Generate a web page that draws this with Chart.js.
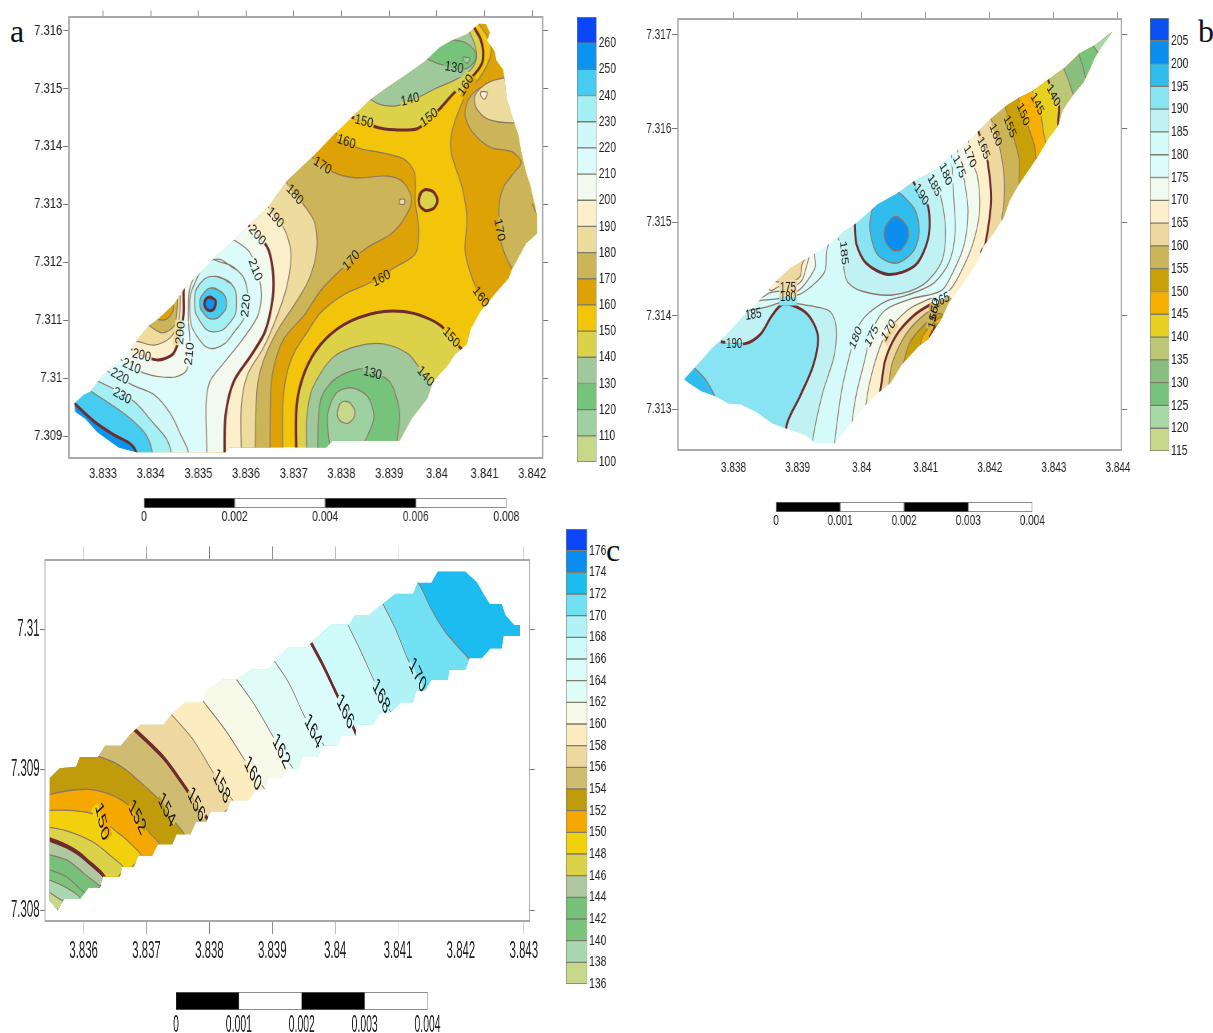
<!DOCTYPE html>
<html>
<head>
<meta charset="utf-8">
<title>Contour maps</title>
<script src="https://cdn.jsdelivr.net/npm/chart.js@4"></script>
<style>
  html, body { margin: 0; background: #fff; }
  body { position: relative; width: 1213px; height: 1033px; overflow: hidden; }
  canvas { position: absolute; transform-origin: 0 0; filter: blur(0.4px); }
  .tag { position: absolute; font: 32px "Liberation Serif", serif; color: #111; line-height: 1; }
</style>
</head>
<body>
<div class="tag" style="left:10px;top:15px">a</div>
<div class="tag" style="left:1198px;top:15px">b</div>
<div class="tag" style="left:606px;top:534px">c</div>
<script>
// ---------- panel a: colour bands ----------
const levelsA = [100,110,120,130,140,150,160,170,180,190,200,210,220,230,240,250,260];
const colorsA = ['#c8d88a','#9fd0a0','#76c47c','#9fc99a','#dcd24a','#f2c40a','#dca206','#ccb558','#eedc9e','#fcf0cc','#f2faf0','#dcfcfc','#d0f8f8','#a4eff4','#45ccf0','#0a94f0','#0a46fa'];
const scaleTicksA = [0,0.002,0.004,0.006,0.008];

const a_outline = [[3.84089,7.31613],[3.84103,7.31612],[3.84111,7.31597],[3.84106,7.31583],[3.84121,7.31565],[3.84125,7.31549],[3.84139,7.31533],[3.84142,7.31516],[3.84146,7.31483],[3.84159,7.31449],[3.84171,7.31419],[3.84177,7.31390],[3.84187,7.31355],[3.84196,7.31332],[3.84204,7.31303],[3.84210,7.31280],[3.84210,7.31250],[3.84187,7.31233],[3.84158,7.31189],[3.84150,7.31172],[3.84121,7.31145],[3.84092,7.31116],[3.84071,7.31084],[3.84063,7.31058],[3.84038,7.31041],[3.84021,7.31020],[3.83992,7.30994],[3.83980,7.30965],[3.83947,7.30930],[3.83922,7.30892],[3.83781,7.30892],[3.83768,7.30880],[3.83565,7.30880],[3.83557,7.30872],[3.83371,7.30872],[3.83333,7.30880],[3.83308,7.30895],[3.83288,7.30907],[3.83263,7.30930],[3.83242,7.30942],[3.83240,7.30956],[3.83259,7.30971],[3.83274,7.30977],[3.83292,7.30997],[3.83312,7.31014],[3.83341,7.31035],[3.83362,7.31052],[3.83375,7.31070],[3.83395,7.31090],[3.83416,7.31102],[3.83449,7.31128],[3.83470,7.31154],[3.83491,7.31172],[3.83516,7.31192],[3.83536,7.31210],[3.83574,7.31238],[3.83607,7.31265],[3.83648,7.31297],[3.83686,7.31341],[3.83739,7.31382],[3.83789,7.31425],[3.83822,7.31451],[3.83860,7.31481],[3.83893,7.31501],[3.83930,7.31521],[3.83976,7.31548],[3.84005,7.31571],[3.84030,7.31583],[3.84063,7.31594]];

const a_e160 = [[3.84088,7.31612],[3.84108,7.31587],[3.84114,7.31569],[3.84108,7.31546],[3.84088,7.31517],[3.84063,7.31492],[3.84042,7.31454],[3.84030,7.31419],[3.84030,7.31390],[3.84038,7.31367],[3.84054,7.31326],[3.84063,7.31274],[3.84059,7.31221],[3.84071,7.31180],[3.84092,7.31140],[3.84112,7.31125],[3.84162,7.31128],[3.84287,7.31244],[3.84287,7.31478],[3.84162,7.31617]];
const a_e170 = [[3.84154,7.31518],[3.84096,7.31504],[3.84067,7.31483],[3.84059,7.31454],[3.84075,7.31425],[3.84112,7.31399],[3.84158,7.31391],[3.84177,7.31373],[3.84162,7.31355],[3.84141,7.31332],[3.84131,7.31303],[3.84131,7.31256],[3.84137,7.31227],[3.84158,7.31189],[3.84179,7.31180],[3.84287,7.31244],[3.84287,7.31478],[3.84204,7.31536]];
const a_ne180 = [[3.84154,7.31521],[3.84108,7.31511],[3.84080,7.31489],[3.84083,7.31466],[3.84108,7.31447],[3.84162,7.31441],[3.84245,7.31448],[3.84245,7.31518]];
const a_neLoop = [[3.84092,7.31495],[3.84106,7.31494],[3.84100,7.31482],[3.84092,7.31488],[3.84092,7.31495]];
const a_eTiny = [[3.84200,7.31301],[3.84205,7.31291],[3.84210,7.31284],[3.84220,7.31291],[3.84212,7.31303]];
const a_n150 = [[3.83806,7.31457],[3.83872,7.31434],[3.83913,7.31429],[3.83959,7.31431],[3.83984,7.31448],[3.84007,7.31466],[3.84035,7.31492],[3.84070,7.31517],[3.84094,7.31543],[3.84097,7.31566],[3.84091,7.31587],[3.84080,7.31603],[3.84071,7.31617],[3.83996,7.31629],[3.83665,7.31536]];
const a_n140 = [[3.83847,7.31489],[3.83880,7.31473],[3.83918,7.31471],[3.83963,7.31486],[3.83996,7.31500],[3.84035,7.31514],[3.84070,7.31532],[3.84083,7.31552],[3.84080,7.31575],[3.84070,7.31595],[3.84059,7.31612],[3.83913,7.31594],[3.83748,7.31536]];
const a_n130 = [[3.83971,7.31556],[3.83984,7.31550],[3.84009,7.31542],[3.84054,7.31534],[3.84073,7.31541],[3.84082,7.31555],[3.84077,7.31568],[3.84059,7.31580],[3.84030,7.31585],[3.84005,7.31588],[3.83955,7.31571]];
const a_nLoop = [[3.84054,7.31555],[3.84069,7.31553],[3.84064,7.31544],[3.84056,7.31549],[3.84054,7.31555]];
const a_c160 = [[3.83781,7.31428],[3.83831,7.31399],[3.83880,7.31390],[3.83930,7.31379],[3.83953,7.31355],[3.83955,7.31303],[3.83962,7.31256],[3.83955,7.31215],[3.83913,7.31192],[3.83855,7.31163],[3.83806,7.31145],[3.83756,7.31113],[3.83727,7.31078],[3.83702,7.31046],[3.83685,7.31006],[3.83677,7.30953],[3.83677,7.30869],[3.83677,7.30807],[3.83167,7.30807],[3.83126,7.31011],[3.83499,7.31303],[3.83731,7.31454]];
const a_c170 = [[3.83735,7.31384],[3.83785,7.31355],[3.83831,7.31346],[3.83897,7.31349],[3.83930,7.31338],[3.83947,7.31309],[3.83934,7.31279],[3.83905,7.31250],[3.83851,7.31224],[3.83797,7.31186],[3.83756,7.31151],[3.83723,7.31110],[3.83681,7.31070],[3.83661,7.31029],[3.83652,7.30982],[3.83650,7.30869],[3.83650,7.30807],[3.83167,7.30807],[3.83126,7.31011],[3.83499,7.31303],[3.83690,7.31408]];
const a_c180 = [[3.83677,7.31346],[3.83723,7.31297],[3.83744,7.31268],[3.83748,7.31221],[3.83731,7.31169],[3.83702,7.31128],[3.83665,7.31081],[3.83636,7.31029],[3.83623,7.30982],[3.83619,7.30869],[3.83619,7.30807],[3.83167,7.30807],[3.83126,7.31011],[3.83499,7.31303],[3.83648,7.31373]];
const a_c190 = [[3.83640,7.31303],[3.83681,7.31256],[3.83694,7.31215],[3.83685,7.31157],[3.83661,7.31099],[3.83636,7.31052],[3.83603,7.31006],[3.83590,7.30953],[3.83590,7.30869],[3.83590,7.30807],[3.83167,7.30807],[3.83126,7.31011],[3.83499,7.31303],[3.83598,7.31326]];
const a_c200 = [[3.83598,7.31271],[3.83644,7.31227],[3.83656,7.31186],[3.83656,7.31140],[3.83640,7.31081],[3.83611,7.31040],[3.83574,7.30994],[3.83557,7.30936],[3.83555,7.30869],[3.83555,7.30807],[3.83167,7.30807],[3.83126,7.31011],[3.83499,7.31303]];
const a_c210 = [[3.83565,7.31244],[3.83607,7.31218],[3.83627,7.31175],[3.83632,7.31140],[3.83623,7.31105],[3.83590,7.31064],[3.83553,7.31026],[3.83524,7.30994],[3.83516,7.30953],[3.83518,7.30869],[3.83518,7.30807],[3.83167,7.30807],[3.83126,7.31011],[3.83458,7.31244]];
const a_w210 = [[3.83491,7.31175],[3.83481,7.31152],[3.83479,7.31101],[3.83482,7.31063],[3.83476,7.31015],[3.83452,7.31002],[3.83413,7.31003],[3.83385,7.31009],[3.83354,7.31020],[3.83329,7.31038],[3.83250,7.31070],[3.83416,7.31186]];
const a_w200 = [[3.83472,7.31166],[3.83469,7.31152],[3.83469,7.31112],[3.83462,7.31075],[3.83448,7.31043],[3.83427,7.31033],[3.83409,7.31032],[3.83385,7.31039],[3.83357,7.31052],[3.83341,7.31064],[3.83375,7.31157]];
const a_wTan = [[3.83458,7.31151],[3.83462,7.31140],[3.83459,7.31099],[3.83441,7.31070],[3.83408,7.31057],[3.83375,7.31063],[3.83358,7.31067],[3.83399,7.31151]];
const a_wKhaki = [[3.83453,7.31145],[3.83456,7.31140],[3.83455,7.31116],[3.83449,7.31090],[3.83424,7.31078],[3.83398,7.31090],[3.83383,7.31099]];
const a_wGold = [[3.83443,7.31131],[3.83448,7.31125],[3.83445,7.31113],[3.83433,7.31102],[3.83416,7.31101],[3.83404,7.31108]];
const a_ring220 = [[3.83532,7.31205],[3.83582,7.31186],[3.83603,7.31151],[3.83600,7.31116],[3.83582,7.31087],[3.83536,7.31052],[3.83499,7.31070],[3.83482,7.31116],[3.83495,7.31169],[3.83532,7.31205]];
const a_ring230 = [[3.83536,7.31176],[3.83569,7.31163],[3.83580,7.31131],[3.83569,7.31099],[3.83532,7.31080],[3.83503,7.31099],[3.83492,7.31131],[3.83503,7.31163],[3.83536,7.31176]];
const a_ring240 = [[3.83530,7.31156],[3.83551,7.31147],[3.83559,7.31129],[3.83551,7.31112],[3.83530,7.31102],[3.83511,7.31112],[3.83503,7.31129],[3.83511,7.31147],[3.83530,7.31156]];
const a_ring250 = [[3.83524,7.31140],[3.83535,7.31135],[3.83536,7.31128],[3.83532,7.31119],[3.83522,7.31117],[3.83514,7.31123],[3.83514,7.31134],[3.83524,7.31140]];
const a_sw220 = [[3.83292,7.31020],[3.83362,7.30988],[3.83408,7.30971],[3.83441,7.30939],[3.83462,7.30904],[3.83480,7.30869],[3.83480,7.30807],[3.83167,7.30807],[3.83167,7.30953]];
const a_sw230 = [[3.83283,7.30997],[3.83321,7.30982],[3.83366,7.30959],[3.83404,7.30924],[3.83433,7.30895],[3.83443,7.30869],[3.83443,7.30807],[3.83167,7.30807],[3.83167,7.30953]];
const a_sw240 = [[3.83271,7.30979],[3.83325,7.30950],[3.83366,7.30924],[3.83391,7.30901],[3.83404,7.30869],[3.83404,7.30807],[3.83167,7.30807],[3.83167,7.30953]];
const a_sw250 = [[3.83238,7.30958],[3.83283,7.30924],[3.83325,7.30901],[3.83358,7.30886],[3.83370,7.30869],[3.83370,7.30807],[3.83167,7.30807]];
const a_s150 = [[3.83705,7.30869],[3.83706,7.30953],[3.83723,7.31011],[3.83756,7.31058],[3.83806,7.31093],[3.83872,7.31113],[3.83930,7.31115],[3.83976,7.31105],[3.84009,7.31090],[3.84030,7.31070],[3.84059,7.31046],[3.84162,7.31011],[3.84162,7.30807],[3.83705,7.30807]];
const a_s140 = [[3.83727,7.30869],[3.83727,7.30930],[3.83739,7.30982],[3.83781,7.31035],[3.83831,7.31055],[3.83889,7.31059],[3.83938,7.31043],[3.83959,7.31023],[3.83976,7.31003],[3.84000,7.30979],[3.84162,7.30895],[3.84162,7.30807],[3.83727,7.30807]];
const a_s130 = [[3.83750,7.30869],[3.83752,7.30936],[3.83760,7.30971],[3.83789,7.31000],[3.83839,7.31016],[3.83865,7.31011],[3.83901,7.30994],[3.83918,7.30959],[3.83922,7.30930],[3.83913,7.30869],[3.83913,7.30807],[3.83750,7.30807]];
const a_s120 = [[3.83777,7.30869],[3.83771,7.30936],[3.83789,7.30974],[3.83822,7.30983],[3.83855,7.30968],[3.83868,7.30933],[3.83855,7.30901],[3.83835,7.30869],[3.83835,7.30807],[3.83777,7.30807]];
const a_s110 = [[3.83791,7.30941],[3.83797,7.30956],[3.83810,7.30960],[3.83822,7.30953],[3.83828,7.30939],[3.83818,7.30924],[3.83804,7.30923],[3.83793,7.30931],[3.83791,7.30941]];
const a_hole = [[3.83962,7.31307],[3.83967,7.31321],[3.83984,7.31325],[3.83999,7.31314],[3.83999,7.31300],[3.83984,7.31290],[3.83968,7.31294],[3.83962,7.31307]];
const a_tri = [[3.83922,7.31309],[3.83932,7.31309],[3.83932,7.31301],[3.83922,7.31301],[3.83922,7.31309]];

const labelsA = [['130',3.84036,7.31536,10],['140',3.83944,7.31481,-15],['160',3.84061,7.31506,-60],['150',3.83847,7.31443,15],['150',3.83984,7.31450,-40],['160',3.83810,7.31408,20],['170',3.83760,7.31367,35],['180',3.83702,7.31317,50],['190',3.83661,7.31277,50],['200',3.83623,7.31247,50],['210',3.83619,7.31187,70],['220',3.83600,7.31125,-85],['170',3.84131,7.31256,80],['170',3.83821,7.31203,-50],['160',3.83884,7.31172,-30],['160',3.84092,7.31140,55],['150',3.84030,7.31070,50],['140',3.83976,7.31003,50],['130',3.83865,7.31008,15],['200',3.83463,7.31078,-85],['210',3.83482,7.31042,-85],['200',3.83381,7.31039,15],['210',3.83360,7.31020,25],['220',3.83335,7.31003,30],['230',3.83340,7.30969,30]];

// ---------- panel b ----------
const levelsB = [115,120,125,130,135,140,145,150,155,160,165,170,175,180,185,190,195,200,205];
const colorsB = ['#c8d88a','#a8d8a8','#76c47c','#88bf80','#bcc878','#e8d020','#f5b000','#c8a008','#ccb558','#eed8a0','#fcf0cc','#f2faf0','#dcfcfc','#d4fafa','#c0f2f4','#88e4f2','#30bcec','#0a8ef0','#0a50f0'];
const scaleTicksB = [0,0.001,0.002,0.003,0.004];

const b_outline = [[3.84391,7.31703],[3.84376,7.31689],[3.84364,7.31676],[3.84355,7.31662],[3.84346,7.31649],[3.84332,7.31638],[3.84314,7.31620],[3.84307,7.31604],[3.84290,7.31588],[3.84273,7.31568],[3.84264,7.31559],[3.84246,7.31541],[3.84231,7.31523],[3.84222,7.31505],[3.84205,7.31487],[3.84190,7.31474],[3.84181,7.31458],[3.84160,7.31436],[3.84137,7.31415],[3.84125,7.31397],[3.84104,7.31375],[3.84090,7.31368],[3.84063,7.31348],[3.84045,7.31328],[3.84025,7.31317],[3.84007,7.31305],[3.83983,7.31285],[3.83957,7.31263],[3.83927,7.31264],[3.83913,7.31272],[3.83883,7.31279],[3.83860,7.31285],[3.83836,7.31297],[3.83812,7.31305],[3.83792,7.31306],[3.83771,7.31314],[3.83750,7.31319],[3.83730,7.31328],[3.83723,7.31332],[3.83739,7.31344],[3.83765,7.31364],[3.83795,7.31384],[3.83818,7.31402],[3.83839,7.31415],[3.83865,7.31436],[3.83889,7.31451],[3.83919,7.31463],[3.83948,7.31476],[3.83972,7.31490],[3.83992,7.31499],[3.84025,7.31519],[3.84054,7.31530],[3.84084,7.31545],[3.84113,7.31555],[3.84143,7.31573],[3.84172,7.31590],[3.84199,7.31609],[3.84225,7.31624],[3.84246,7.31633],[3.84267,7.31640],[3.84293,7.31653],[3.84317,7.31665],[3.84340,7.31680],[3.84364,7.31689]];

const b_e180 = [[3.84140,7.31577],[3.84143,7.31534],[3.84146,7.31490],[3.84137,7.31458],[3.84113,7.31435],[3.84072,7.31422],[3.84037,7.31415],[3.84007,7.31400],[3.83992,7.31384],[3.83981,7.31357],[3.83969,7.31321],[3.83957,7.31260],[3.83954,7.31231],[3.84450,7.31231],[3.84450,7.31714]];
const b_e175 = [[3.84149,7.31579],[3.84160,7.31545],[3.84166,7.31512],[3.84160,7.31476],[3.84143,7.31447],[3.84125,7.31427],[3.84078,7.31418],[3.84037,7.31406],[3.84016,7.31384],[3.84004,7.31350],[3.83992,7.31317],[3.83985,7.31285],[3.83981,7.31231],[3.84450,7.31231],[3.84450,7.31714]];
const b_e170 = [[3.84166,7.31593],[3.84169,7.31570],[3.84181,7.31548],[3.84184,7.31512],[3.84175,7.31480],[3.84158,7.31451],[3.84137,7.31427],[3.84107,7.31418],[3.84072,7.31406],[3.84037,7.31379],[3.84019,7.31346],[3.84007,7.31306],[3.84001,7.31231],[3.84450,7.31231],[3.84450,7.31714]];
const b_ne165 = [[3.84181,7.31600],[3.84190,7.31579],[3.84197,7.31563],[3.84202,7.31523],[3.84193,7.31476],[3.84187,7.31467],[3.84273,7.31447],[3.84450,7.31714],[3.84214,7.31664]];
const b_ne160 = [[3.84199,7.31615],[3.84208,7.31599],[3.84215,7.31581],[3.84222,7.31552],[3.84222,7.31519],[3.84219,7.31503],[3.84228,7.31494],[3.84450,7.31714],[3.84273,7.31682]];
const b_ne155 = [[3.84222,7.31628],[3.84237,7.31591],[3.84246,7.31566],[3.84246,7.31539],[3.84255,7.31532],[3.84450,7.31714],[3.84273,7.31682]];
const b_ne150 = [[3.84243,7.31635],[3.84258,7.31606],[3.84270,7.31581],[3.84273,7.31566],[3.84281,7.31561],[3.84450,7.31714],[3.84302,7.31682]];
const b_ne145 = [[3.84264,7.31643],[3.84278,7.31620],[3.84287,7.31586],[3.84296,7.31581],[3.84450,7.31714],[3.84302,7.31682]];
const b_ne140 = [[3.84290,7.31655],[3.84299,7.31635],[3.84308,7.31624],[3.84307,7.31604],[3.84314,7.31597],[3.84450,7.31714],[3.84326,7.31682]];
const b_ne135 = [[3.84314,7.31667],[3.84323,7.31651],[3.84332,7.31633],[3.84337,7.31628],[3.84450,7.31714],[3.84332,7.31692]];
const b_ne130 = [[3.84337,7.31683],[3.84345,7.31667],[3.84352,7.31649],[3.84361,7.31644],[3.84450,7.31714],[3.84361,7.31700]];
const b_ne125 = [[3.84358,7.31691],[3.84368,7.31682],[3.84376,7.31673],[3.84450,7.31714],[3.84385,7.31710]];
const b_se165 = [[3.84028,7.31315],[3.84031,7.31328],[3.84037,7.31353],[3.84054,7.31379],[3.84078,7.31398],[3.84103,7.31410],[3.84131,7.31418],[3.84146,7.31413],[3.84273,7.31267],[3.84037,7.31267]];
const b_se160 = [[3.84042,7.31325],[3.84048,7.31350],[3.84069,7.31380],[3.84096,7.31400],[3.84119,7.31409],[3.84134,7.31409],[3.84273,7.31267],[3.84048,7.31267]];
const b_se155 = [[3.84063,7.31344],[3.84075,7.31371],[3.84096,7.31389],[3.84119,7.31402],[3.84131,7.31398],[3.84273,7.31267],[3.84066,7.31267]];
const b_se150 = [[3.84090,7.31364],[3.84096,7.31379],[3.84113,7.31393],[3.84124,7.31398],[3.84134,7.31395],[3.84273,7.31267],[3.84096,7.31267]];
const b_se145 = [[3.84103,7.31371],[3.84110,7.31384],[3.84122,7.31393],[3.84134,7.31391],[3.84273,7.31267]];
const b_se140 = [[3.84106,7.31377],[3.84116,7.31387],[3.84125,7.31388],[3.84137,7.31389],[3.84273,7.31267]];
const b_n185 = [[3.83963,7.31483],[3.83972,7.31467],[3.83972,7.31451],[3.83978,7.31436],[3.84001,7.31426],[3.84048,7.31422],[3.84096,7.31433],[3.84125,7.31458],[3.84131,7.31490],[3.84125,7.31523],[3.84116,7.31541],[3.84110,7.31559],[3.84037,7.31573]];
const b_n190 = [[3.83989,7.31501],[3.83992,7.31476],[3.84007,7.31456],[3.84042,7.31444],[3.84084,7.31454],[3.84104,7.31483],[3.84104,7.31516],[3.84090,7.31530],[3.84078,7.31545],[3.84037,7.31555]];
const b_n195 = [[3.84025,7.31523],[3.84016,7.31512],[3.84013,7.31490],[3.84025,7.31465],[3.84054,7.31456],[3.84081,7.31469],[3.84090,7.31490],[3.84084,7.31512],[3.84066,7.31527],[3.84053,7.31534]];
const b_n200 = [[3.84054,7.31506],[3.84067,7.31499],[3.84073,7.31488],[3.84067,7.31475],[3.84054,7.31469],[3.84041,7.31475],[3.84035,7.31488],[3.84041,7.31499],[3.84054,7.31506]];
const b_sw185 = [[3.83818,7.31405],[3.83851,7.31409],[3.83877,7.31414],[3.83930,7.31409],[3.83951,7.31404],[3.83960,7.31389],[3.83957,7.31357],[3.83939,7.31317],[3.83924,7.31269],[3.83919,7.31231],[3.83683,7.31267],[3.83683,7.31375]];
const b_sw190 = [[3.83780,7.31372],[3.83818,7.31370],[3.83842,7.31380],[3.83860,7.31400],[3.83877,7.31412],[3.83907,7.31406],[3.83924,7.31393],[3.83932,7.31375],[3.83924,7.31346],[3.83904,7.31314],[3.83883,7.31283],[3.83877,7.31231],[3.83683,7.31267],[3.83683,7.31357]];
const b_sw195 = [[3.83736,7.31346],[3.83756,7.31332],[3.83771,7.31314],[3.83777,7.31303],[3.83683,7.31303]];
const b_w180 = [[3.83951,7.31483],[3.83945,7.31467],[3.83943,7.31448],[3.83928,7.31435],[3.83904,7.31423],[3.83870,7.31418],[3.83840,7.31416],[3.83824,7.31412],[3.83801,7.31483]];
const b_w175 = [[3.83930,7.31472],[3.83926,7.31466],[3.83928,7.31453],[3.83915,7.31437],[3.83899,7.31426],[3.83870,7.31426],[3.83855,7.31424],[3.83842,7.31420],[3.83801,7.31483]];
const b_w170 = [[3.83919,7.31465],[3.83914,7.31453],[3.83907,7.31438],[3.83892,7.31431],[3.83871,7.31431],[3.83857,7.31427],[3.83801,7.31483]];
const b_w165 = [[3.83913,7.31462],[3.83907,7.31455],[3.83904,7.31442],[3.83891,7.31436],[3.83876,7.31436],[3.83863,7.31438],[3.83860,7.31483]];

const labelsB = [['140',3.84299,7.31635,65],['145',3.84274,7.31626,65],['150',3.84252,7.31615,70],['155',3.84231,7.31602,70],['160',3.84209,7.31593,70],['165',3.84190,7.31579,70],['170',3.84169,7.31570,70],['175',3.84152,7.31559,70],['180',3.84131,7.31551,70],['185',3.84113,7.31539,65],['190',3.84093,7.31529,60],['185',3.83972,7.31467,85],['175',3.83885,7.31429,0],['180',3.83885,7.31420,0],['185',3.83831,7.31401,-10],['190',3.83801,7.31370,0],['180',3.83991,7.31376,-70],['175',3.84016,7.31378,-65],['170',3.84042,7.31384,-60],['165',3.84125,7.31416,-30],['160',3.84114,7.31406,-80],['155',3.84112,7.31398,-80]];

// ---------- panel c ----------
const levelsC = [136,138,140,142,144,146,148,150,152,154,156,158,160,162,164,166,168,170,172,174,176];
const colorsC = ['#c8d88a','#a8d8b0','#7cc47c','#76c07a','#b0c8a0','#dcd24a','#f2d00c','#f5a800','#c09c0c','#d0bc70','#eed8a0','#fcecc0','#f6f8e8','#e0fcf6','#dcfcfc','#cffafa','#b0f2f6','#70e0f2','#1cbcf0','#0a8cf0','#0a46fa'];
const scaleTicksC = [0,0.001,0.002,0.003,0.004];

const c_outline = [[3.83546,7.30894],[3.83562,7.30901],[3.83588,7.30902],[3.83594,7.30909],[3.83623,7.30909],[3.83634,7.30917],[3.83659,7.30917],[3.83674,7.30925],[3.83690,7.30932],[3.83727,7.30932],[3.83741,7.30940],[3.83762,7.30948],[3.83789,7.30948],[3.83795,7.30956],[3.83821,7.30964],[3.83843,7.30964],[3.83866,7.30971],[3.83893,7.30971],[3.83907,7.30979],[3.83926,7.30987],[3.83955,7.30987],[3.83971,7.30994],[3.83993,7.31003],[3.84022,7.31003],[3.84032,7.31010],[3.84054,7.31010],[3.84076,7.31018],[3.84096,7.31025],[3.84124,7.31025],[3.84131,7.31033],[3.84153,7.31033],[3.84163,7.31041],[3.84207,7.31041],[3.84226,7.31033],[3.84236,7.31025],[3.84246,7.31018],[3.84265,7.31018],[3.84271,7.31010],[3.84285,7.31003],[3.84294,7.31003],[3.84294,7.30995],[3.84268,7.30995],[3.84265,7.30986],[3.84247,7.30986],[3.84233,7.30979],[3.84214,7.30979],[3.84207,7.30971],[3.84182,7.30971],[3.84179,7.30964],[3.84153,7.30964],[3.84143,7.30956],[3.84129,7.30956],[3.84124,7.30948],[3.84105,7.30948],[3.84089,7.30941],[3.84070,7.30940],[3.84060,7.30932],[3.84035,7.30932],[3.84032,7.30924],[3.84009,7.30924],[3.84004,7.30917],[3.83981,7.30917],[3.83971,7.30909],[3.83949,7.30909],[3.83942,7.30901],[3.83928,7.30901],[3.83914,7.30894],[3.83894,7.30894],[3.83888,7.30886],[3.83875,7.30886],[3.83862,7.30878],[3.83834,7.30878],[3.83827,7.30870],[3.83802,7.30870],[3.83795,7.30863],[3.83779,7.30863],[3.83770,7.30854],[3.83748,7.30854],[3.83741,7.30847],[3.83718,7.30847],[3.83709,7.30839],[3.83687,7.30839],[3.83680,7.30831],[3.83661,7.30831],[3.83658,7.30824],[3.83631,7.30824],[3.83626,7.30816],[3.83608,7.30816],[3.83594,7.30808],[3.83569,7.30808],[3.83559,7.30800],[3.83546,7.30807]];

const c_172 = [[3.84124,7.31038],[3.84137,7.31029],[3.84153,7.31014],[3.84175,7.30998],[3.84214,7.30978],[3.84223,7.30972]];
const c_170 = [[3.84070,7.31023],[3.84096,7.31000],[3.84115,7.30979],[3.84131,7.30967],[3.84147,7.30953]];
const c_168 = [[3.84017,7.31006],[3.84041,7.30984],[3.84059,7.30966],[3.84073,7.30952],[3.84089,7.30937]];
const c_166 = [[3.83957,7.30994],[3.83981,7.30974],[3.84000,7.30956],[3.84016,7.30941],[3.84032,7.30922]];
const c_164 = [[3.83896,7.30982],[3.83926,7.30962],[3.83949,7.30940],[3.83965,7.30927],[3.83984,7.30913]];
const c_162 = [[3.83840,7.30966],[3.83872,7.30946],[3.83898,7.30926],[3.83914,7.30913],[3.83933,7.30897]];
const c_160 = [[3.83784,7.30952],[3.83824,7.30929],[3.83853,7.30909],[3.83869,7.30897],[3.83888,7.30883]];
const c_158 = [[3.83732,7.30943],[3.83773,7.30922],[3.83802,7.30901],[3.83819,7.30888],[3.83838,7.30875]];
const c_156 = [[3.83680,7.30929],[3.83728,7.30908],[3.83762,7.30887],[3.83779,7.30875],[3.83800,7.30860]];
const c_154 = [[3.83581,7.30911],[3.83626,7.30909],[3.83664,7.30901],[3.83703,7.30886],[3.83721,7.30878],[3.83735,7.30868],[3.83760,7.30851]];
const c_152 = [[3.83530,7.30881],[3.83575,7.30885],[3.83607,7.30886],[3.83639,7.30883],[3.83671,7.30875],[3.83685,7.30866],[3.83703,7.30856],[3.83722,7.30844]];
const c_150 = [[3.83530,7.30871],[3.83578,7.30871],[3.83617,7.30868],[3.83652,7.30856],[3.83671,7.30849],[3.83691,7.30837]];
const c_148 = [[3.83530,7.30860],[3.83569,7.30857],[3.83613,7.30849],[3.83642,7.30839],[3.83664,7.30828]];
const c_146 = [[3.83530,7.30853],[3.83575,7.30845],[3.83604,7.30836],[3.83634,7.30820]];
const c_144 = [[3.83530,7.30841],[3.83572,7.30836],[3.83601,7.30826],[3.83629,7.30813]];
const c_142 = [[3.83530,7.30831],[3.83572,7.30824],[3.83597,7.30814],[3.83612,7.30808]];
const c_140 = [[3.83530,7.30824],[3.83569,7.30817],[3.83594,7.30807]];
const c_138 = [[3.83530,7.30817],[3.83562,7.30808],[3.83575,7.30804]];
const c_136 = [[3.83530,7.30809],[3.83559,7.30800],[3.83562,7.30796]];
const c_closeSW = [3.83467,7.30766];
const c_closeNW = [3.83530,7.31050];

const labelsC = [['170',3.84131,7.30967,65],['168',3.84073,7.30952,65],['166',3.84016,7.30941,65],['164',3.83965,7.30927,65],['162',3.83914,7.30913,65],['160',3.83869,7.30897,65],['158',3.83819,7.30888,65],['156',3.83779,7.30875,65],['154',3.83732,7.30871,65],['152',3.83685,7.30866,65],['150',3.83629,7.30863,78]];

// ---------- drawing ----------
const FONT = '"Liberation Sans", sans-serif';
const HEAVY = '#6e2c2c', THIN = '#8d7768', FRAME = '#a8a8a8', TEXT = '#222';

function addCanvas(left, top, w, h, squeeze) {
  const c = document.createElement('canvas');
  c.width = Math.round(w * squeeze);
  c.height = Math.round(h);
  c.style.left = left + 'px';
  c.style.top = top + 'px';
  c.style.transform = 'scaleX(' + (1 / squeeze) + ')';
  document.body.appendChild(c);
  return c;
}

const shortNum = v => String(+v.toFixed(3));
const hexToRgb = h => [1, 3, 5].map(i => parseInt(h.substr(i, 2), 16));

function drawPlot(p) {
  const sq = p.squeeze;
  const b = p.box, m = p.margin;
  const w = b.R - b.L + m.left + m.right, h = b.B - b.T + m.top + m.bottom;
  const canvas = addCanvas(b.L - m.left, b.T - m.top, w, h, sq);
  const colorOf = band => p.colors[p.levels.indexOf(band)];
  const palette = p.colors.map(hexToRgb);

  const datasets = [{ pts: p.outline, band: p.base, noLine: true }].concat(p.layers).map((l, i, all) => ({
    // a closed ring runs on past its start so the curve closes without a corner
    data: l.ring ? l.pts.concat([l.pts[1]]) : l.pts,
    showLine: true,
    fill: 'shape',
    backgroundColor: colorOf(l.band),
    borderColor: l.noLine ? 'transparent' : (l.heavy ? HEAVY : THIN),
    borderWidth: l.noLine ? 0 : (l.heavy ? p.heavyWidth : p.thinWidth),
    tension: l.noLine ? 0 : (l.ring ? 0.5 : 0.3),
    pointRadius: 0,
    order: all.length - i
  }));

  const font = { family: FONT, size: p.tickFont };
  const frame = { color: FRAME, width: 2 };
  const xAxis = (pos, size, labelled, drawTicks, tick) => ({
    type: 'linear', position: pos, min: p.xr[0], max: p.xr[1],
    afterFit: s => { s.height = size; },
    border: frame,
    grid: { drawOnChartArea: false, drawTicks: drawTicks, tickLength: tick, color: '#777' },
    ticks: { stepSize: 0.001, includeBounds: false, autoSkip: false, maxRotation: 0, padding: p.xPad, font, color: TEXT,
      callback: labelled ? shortNum : () => '' }
  });
  const yAxis = (pos, size, labelled, tick) => ({
    type: 'linear', position: pos, min: p.yr[0], max: p.yr[1],
    afterFit: s => { s.width = size; },
    border: frame,
    grid: { drawOnChartArea: false, tickLength: tick, color: '#777' },
    ticks: { stepSize: 0.001, includeBounds: false, autoSkip: false, padding: 1, font, color: TEXT,
      callback: labelled ? shortNum : () => '' }
  });

  new Chart(canvas, {
    type: 'scatter',
    data: { datasets },
    options: {
      responsive: false, animation: false,
      layout: { padding: 0 },
      plugins: { legend: { display: false }, tooltip: { enabled: false } },
      scales: {
        x: xAxis('bottom', m.bottom, true, p.bottomTicks > 0, p.bottomTicks || 1),
        xTop: xAxis('top', m.top, false, true, p.topTicks),
        y: yAxis('left', m.left * sq, true, p.sideTicks * sq),
        yRight: yAxis('right', m.right * sq, false, p.sideTicks * sq)
      }
    },
    plugins: [{
      id: 'outlineClip',
      beforeDatasetsDraw(chart) {
        const { ctx, scales: { x, y } } = chart;
        ctx.save();
        ctx.beginPath();
        p.outline.forEach(([px, py], i) => {
          const X = x.getPixelForValue(px), Y = y.getPixelForValue(py);
          if (i) ctx.lineTo(X, Y); else ctx.moveTo(X, Y);
        });
        ctx.closePath();
        ctx.clip();
      },
      afterDatasetsDraw(chart) {
        const { ctx, scales: { x, y } } = chart;
        const placed = p.labels.map(([t, lx, ly, deg]) => {
          const rad = deg * Math.PI / 180;
          return { t, X: x.getPixelForValue(lx), Y: y.getPixelForValue(ly), a: Math.atan2(Math.sin(rad), Math.cos(rad) * sq) };
        });
        ctx.font = p.labelFont + 'px ' + FONT;
        // contour lines break under their labels: repaint each side with the band colour found there
        const bandNear = (l, side, tall) => {
          for (const f of [1.2, 1.6]) {
            const sx = l.X - Math.sin(l.a) * side * tall * f, sy = l.Y + Math.cos(l.a) * side * tall * f;
            const d = ctx.getImageData(Math.round(sx), Math.round(sy), 1, 1).data;
            if (d[3] === 255 && palette.some(c => c[0] === d[0] && c[1] === d[1] && c[2] === d[2])) {
              return 'rgb(' + d[0] + ',' + d[1] + ',' + d[2] + ')';
            }
          }
          return null;
        };
        placed.forEach(l => {
          const half = ctx.measureText(l.t).width / 2 + 1, tall = p.labelFont * 0.6;
          [-1, 1].forEach(side => {
            const color = bandNear(l, side, tall);
            if (!color) return;
            ctx.save();
            ctx.translate(l.X, l.Y);
            ctx.rotate(l.a);
            ctx.fillStyle = color;
            ctx.fillRect(-half, side < 0 ? -tall : 0, 2 * half, tall);
            ctx.restore();
          });
        });
        ctx.restore();
        ctx.save();
        ctx.font = p.labelFont + 'px ' + FONT;
        ctx.fillStyle = '#1c1c1c';
        ctx.textAlign = 'center';
        ctx.textBaseline = 'middle';
        placed.forEach(l => {
          ctx.save();
          ctx.translate(l.X, l.Y);
          ctx.rotate(l.a);
          ctx.fillText(l.t, 0, 0);
          ctx.restore();
        });
        ctx.restore();
      }
    }]
  });
}

function drawColorbar(levels, colors, bar, fontSize, sq) {
  const step = levels[1] - levels[0];
  const pad = 16, right = 30;
  const canvas = addCanvas(bar.L, bar.T - pad, bar.R - bar.L + right, bar.B - bar.T + 2 * pad, sq);
  new Chart(canvas, {
    type: 'bar',
    data: {
      labels: ['z'],
      datasets: levels.map((lv, i) => ({
        data: [[lv, lv + step]],
        backgroundColor: colors[i],
        borderColor: '#7c7c6c',
        borderWidth: 1,
        borderSkipped: false,
        categoryPercentage: 1,
        barPercentage: 1
      }))
    },
    options: {
      responsive: false, animation: false,
      layout: { padding: { top: pad, bottom: pad } },
      plugins: { legend: { display: false }, tooltip: { enabled: false } },
      scales: {
        x: { display: false, stacked: true },
        y: {
          position: 'right', min: levels[0], max: levels[levels.length - 1] + step,
          afterFit: s => { s.width = right * sq; },
          border: { display: false },
          grid: { display: false, drawTicks: false },
          ticks: { stepSize: step, autoSkip: false, padding: 3, color: TEXT, font: { family: FONT, size: fontSize },
            callback: v => (v > levels[levels.length - 1] ? '' : v) }
        }
      }
    }
  });
}

function drawScalebar(ticks, bar, fontSize, sq) {
  const side = 24, below = bar.below;
  const canvas = addCanvas(bar.L - side, bar.T, bar.R - bar.L + 2 * side, bar.B - bar.T + below, sq);
  const segments = ticks.slice(1).map((t, i) => [ticks[i], t]);
  new Chart(canvas, {
    type: 'bar',
    data: {
      labels: ['s'],
      datasets: segments.map((seg, i) => ({
        data: [seg],
        backgroundColor: i % 2 ? '#ffffff' : '#000000',
        borderColor: '#666',
        borderWidth: 1,
        borderSkipped: false,
        categoryPercentage: 1,
        barPercentage: 1
      }))
    },
    options: {
      indexAxis: 'y',
      responsive: false, animation: false,
      layout: { padding: { left: side * sq, right: side * sq } },
      plugins: { legend: { display: false }, tooltip: { enabled: false } },
      scales: {
        y: { display: false, stacked: true },
        x: {
          min: ticks[0], max: ticks[ticks.length - 1],
          afterFit: s => { s.height = below; },
          border: { display: false },
          grid: { display: false, drawTicks: false },
          ticks: { stepSize: ticks[1] - ticks[0], autoSkip: false, maxRotation: 0, padding: 1, color: TEXT, font: { family: FONT, size: fontSize }, callback: shortNum }
        }
      }
    }
  });
}

const L = (pts, band, heavy) => ({ pts, band, heavy: !!heavy });
const R = (pts, band, heavy) => ({ pts, band, heavy: !!heavy, ring: true });
const closeC = line => line.concat([c_closeSW, c_closeNW]);

drawPlot({
  squeeze: 1.25,
  box: { L: 68.8, R: 541.7, T: 17, B: 458.4 }, margin: { left: 40, right: 30, top: 9, bottom: 30 },
  xr: [3.832287, 3.842208], yr: [7.30862, 7.316233],
  tickFont: 14, xPad: 8, labelFont: 14, heavyWidth: 3, thinWidth: 1.2, topTicks: 7, bottomTicks: 0, sideTicks: 6,
  levels: levelsA, colors: colorsA, base: 150, outline: a_outline, labels: labelsA,
  layers: [
    L(a_e160,160), L(a_e170,170), L(a_ne180,180), L(a_neLoop,190), L(a_eTiny,160),
    L(a_n150,140,true), L(a_n140,130), L(a_n130,120), L(a_nLoop,110),
    L(a_c160,160), L(a_c170,170), L(a_c180,180), L(a_c190,190), L(a_c200,200,true), L(a_c210,210),
    L(a_w210,200), L(a_w200,190,true), L(a_wTan,180), L(a_wKhaki,170), L(a_wGold,160),
    R(a_ring220,220), R(a_ring230,230), R(a_ring240,240), R(a_ring250,250,true),
    L(a_sw220,220), L(a_sw230,230), L(a_sw240,240), L(a_sw250,250,true),
    L(a_s150,140,true), L(a_s140,130), L(a_s130,120), L(a_s120,110), R(a_s110,100),
    R(a_hole,140,true), L(a_tri,180)
  ]
});

drawPlot({
  squeeze: 1.5,
  box: { L: 677.5, R: 1121.1, T: 17.6, B: 449.3 }, margin: { left: 40, right: 30, top: 9, bottom: 30 },
  xr: [3.837133, 3.844053], yr: [7.312563, 7.31717],
  tickFont: 15, xPad: 9, labelFont: 14.5, heavyWidth: 3, thinWidth: 1.3, topTicks: 7, bottomTicks: 0, sideTicks: 6,
  levels: levelsB, colors: colorsB, base: 180, outline: b_outline, labels: labelsB,
  layers: [
    L(b_e180,175), L(b_e175,170), L(b_e170,165),
    L(b_ne165,160,true), L(b_ne160,155), L(b_ne155,150), L(b_ne150,145), L(b_ne145,140), L(b_ne140,135,true), L(b_ne135,130), L(b_ne130,125), L(b_ne125,120),
    L(b_se165,160,true), L(b_se160,155), L(b_se155,150), L(b_se150,145), L(b_se145,140), L(b_se140,135,true),
    L(b_n185,185), L(b_n190,190,true), L(b_n195,195), R(b_n200,200),
    L(b_sw185,185), L(b_sw190,190,true), L(b_sw195,195),
    L(b_w180,175), L(b_w175,170), L(b_w170,165), L(b_w165,160)
  ]
});

drawPlot({
  squeeze: 2.1,
  box: { L: 45.4, R: 530.3, T: 560, B: 920.7 }, margin: { left: 40, right: 30, top: 15, bottom: 50 },
  xr: [3.835386, 3.843095], yr: [7.307924, 7.310488],
  tickFont: 24, xPad: 3, labelFont: 24, heavyWidth: 4.5, thinWidth: 1.3, topTicks: 14, bottomTicks: 13, sideTicks: 5,
  levels: levelsC, colors: colorsC, base: 172, outline: c_outline, labels: labelsC,
  layers: [
    L(closeC(c_172),170), L(closeC(c_170),168), L(closeC(c_168),166), L(closeC(c_166),164,true),
    L(closeC(c_164),162), L(closeC(c_162),160), L(closeC(c_160),158), L(closeC(c_158),156),
    L(closeC(c_156),154,true), L(closeC(c_154),152), L(closeC(c_152),150), L(closeC(c_150),148),
    L(closeC(c_148),146), L(closeC(c_146),144,true), L(closeC(c_144),142), L(closeC(c_142),140),
    L(closeC(c_140),138), L(closeC(c_138),136), L(closeC(c_136),136)
  ]
});

drawColorbar(levelsA, colorsA, { L: 576.5, R: 596.3, T: 17, B: 462 }, 15, 1.45);
drawColorbar(levelsB, colorsB, { L: 1149.9, R: 1168.8, T: 17.6, B: 450.3 }, 15, 1.45);
drawColorbar(levelsC, colorsC, { L: 565.7, R: 586.6, T: 529, B: 984.3 }, 15, 1.45);

drawScalebar(scaleTicksA, { L: 143.9, R: 506.5, T: 498, B: 508, below: 16 }, 14, 1.35);
drawScalebar(scaleTicksB, { L: 775.8, R: 1032.3, T: 502, B: 512.2, below: 16 }, 14, 1.4);
drawScalebar(scaleTicksC, { L: 175.6, R: 427, T: 992.3, B: 1010.7, below: 26 }, 23.5, 2.25);
</script>
</body>
</html>
